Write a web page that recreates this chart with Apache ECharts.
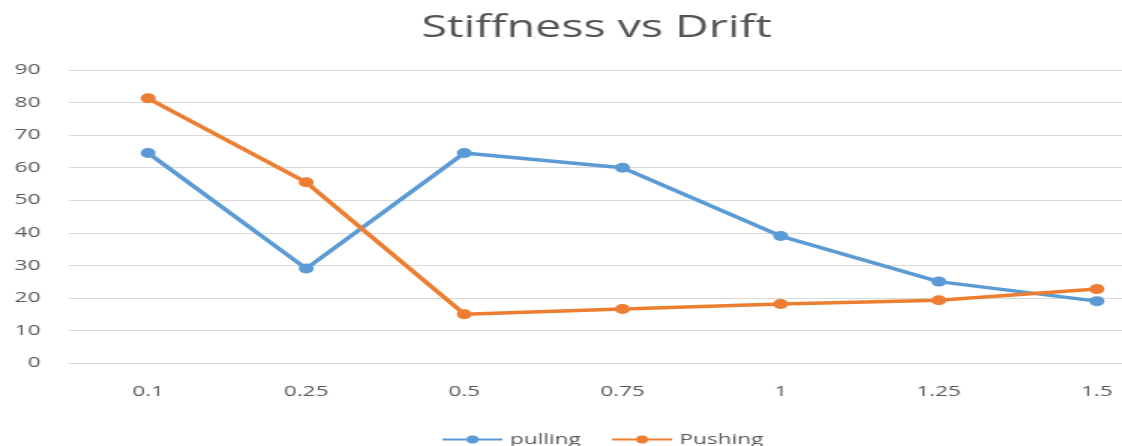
<!DOCTYPE html>
<html>
<head>
<meta charset="utf-8">
<script src="https://cdn.jsdelivr.net/npm/echarts@6/dist/echarts.min.js"></script>
<style>
	html, body { margin: 0; padding: 0; background: #fff; overflow: hidden; width: 1122px; height: 446px; }
	/* the reference picture is stretched sideways, so the chart is drawn narrow and scaled */
	#chart { width: 787px; height: 446px; transform: scaleX(1.5); transform-origin: 0 0; }
</style>
</head>
<body>
<div id="chart"></div>
<script>
// drift values (x axis)
const drifts = ['0.1', '0.25', '0.5', '0.75', '1', '1.25', '1.5'];
// stiffness
const pulling = [64.5, 29, 64.5, 60, 39, 25, 19];
const pushing = [81.3, 55.5, 15, 16.6, 18.1, 19.3, 22.7];

const chart = echarts.init(document.getElementById('chart'));

const lineSeries = (name, data, color) => ({
	name: name,
	type: 'line',
	data: data,
	symbol: 'circle',
	symbolSize: 10,
	lineStyle: { color: color, width: 3.5 },
	itemStyle: { color: color },
});

chart.setOption({
	animation: false,
	backgroundColor: '#fff',
	title: {
		text: 'Stiffness vs Drift',
		left: 276,
		top: 8,
		textStyle: { fontFamily: 'Open Sans', fontSize: 31, fontWeight: 'normal', color: '#555' },
	},
	legend: {
		left: 289,
		top: 427,
		itemWidth: 40,
		itemHeight: 10,
		itemGap: 20,
		textStyle: { fontFamily: 'Open Sans', fontSize: 15, color: '#595959' },
		data: ['pulling', 'Pushing'],
	},
	grid: {
		left: 46,
		top: 70,
		width: 738,
		height: 293,
	},
	xAxis: {
		type: 'category',
		data: drifts,
		boundaryGap: true,
		axisLine: { show: false },
		axisTick: { show: false },
		axisLabel: { fontFamily: 'Open Sans', fontSize: 15, color: '#595959', margin: 21 },
	},
	yAxis: {
		type: 'value',
		min: 0,
		max: 90,
		interval: 10,
		axisLine: { show: false },
		axisTick: { show: false },
		axisLabel: { fontFamily: 'Open Sans', fontSize: 15, color: '#595959', margin: 19 },
		splitLine: { lineStyle: { color: '#d9d9d9', width: 1 } },
	},
	series: [
		lineSeries('pulling', pulling, '#5b9bd5'),
		lineSeries('Pushing', pushing, '#ed7d31'),
	],
});
</script>
</body>
</html>
